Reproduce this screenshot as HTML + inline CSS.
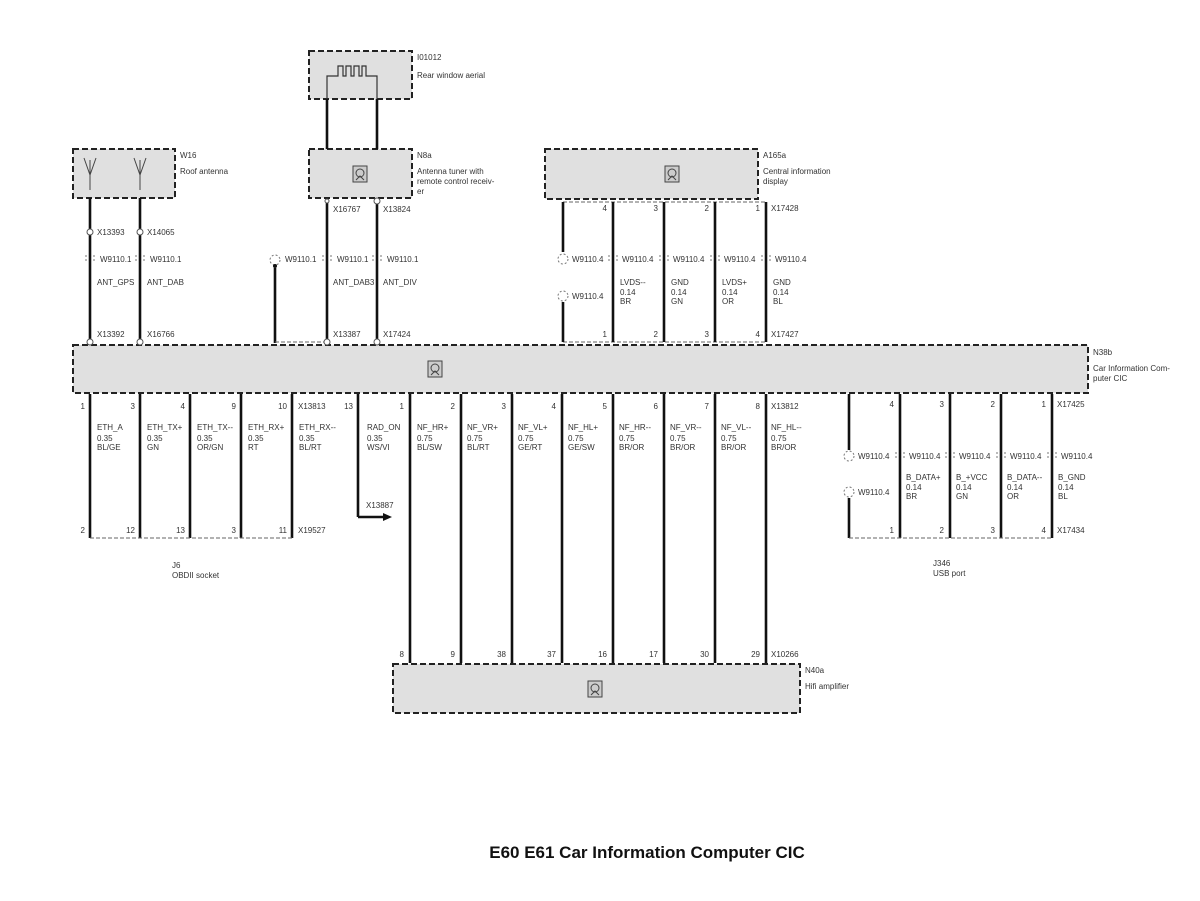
<!DOCTYPE html>
<html><head><meta charset="utf-8"><style>
html,body{margin:0;padding:0;background:#fff;}
svg text{font-family:"Liberation Sans",sans-serif;font-size:8px;fill:#333;}
.b{fill:#e0e0e0;stroke:#222;stroke-width:2;stroke-dasharray:6,3;}
.w{stroke:#111;stroke-width:2.6;fill:none;}
.d{stroke:#666;stroke-width:1;stroke-dasharray:4,2;fill:none;}
.c{fill:#fff;stroke:#555;stroke-width:1;}
.m{fill:none;stroke:#777;stroke-width:1;stroke-dasharray:2,2;}
.r{text-anchor:end;}
</style></head><body>
<svg width="1200" height="896" viewBox="0 0 1200 896" xmlns="http://www.w3.org/2000/svg">
<defs>
<g id="ic"><rect x="-7" y="-8" width="14" height="16" fill="#ccc" stroke="#444" stroke-width="1"/><circle cx="0" cy="-1" r="4" fill="none" stroke="#444" stroke-width="1"/><path d="M-4 6 L0 2 L4 6" fill="none" stroke="#444"/></g>
<g id="mk"><path d="M-4 -4 v8 M4 -4 v8" class="m"/></g>
</defs>

<rect class="b" x="309" y="51" width="103" height="48"/>
<path d="M327 99 V76 H338 V66 H343 V76 H346 V66 H351 V76 H354 V66 H359 V76 H362 V66 H366 V76 H377 V99" fill="none" stroke="#333" stroke-width="1.2"/>
<text x="417" y="60">I01012</text><text x="417" y="78">Rear window aerial</text>

<rect class="b" x="73" y="149" width="102" height="49"/>
<path d="M90 190 V160 M84 158 L90 175 L96 158 M140 190 V160 M134 158 L140 175 L146 158" stroke="#444" stroke-width="1" fill="none"/>
<text x="180" y="158">W16</text><text x="180" y="174">Roof antenna</text>

<rect class="b" x="309" y="149" width="103" height="49"/>
<use href="#ic" x="360" y="174"/>
<text x="417" y="158">N8a</text><text x="417" y="174">Antenna tuner with</text><text x="417" y="184">remote control receiv-</text><text x="417" y="194">er</text>

<rect class="b" x="545" y="149" width="213" height="50"/>
<use href="#ic" x="672" y="174"/>
<text x="763" y="158">A165a</text><text x="763" y="174">Central information</text><text x="763" y="184">display</text>

<rect class="b" x="73" y="345" width="1015" height="48"/>
<use href="#ic" x="435" y="369"/>
<text x="1093" y="355">N38b</text><text x="1093" y="371">Car Information Com-</text><text x="1093" y="381">puter CIC</text>

<rect class="b" x="393" y="664" width="407" height="49"/>
<use href="#ic" x="595" y="689"/>
<text x="805" y="673">N40a</text><text x="805" y="689">Hifi amplifier</text>

<path class="w" d="M90 198V343 M140 198V343 M327 99V149 M377 99V149 M327 198V343 M377 198V343 M275 268V343"/>
<path class="d" d="M275 342H327"/>
<circle class="m" cx="275" cy="260" r="5"/><circle cx="275" cy="266" r="2" fill="#111"/>
<g>
<text x="97" y="235">X13393</text><use href="#mk" x="90" y="259"/><text x="100" y="262">W9110.1</text><text x="97" y="285">ANT_GPS</text><text x="97" y="337">X13392</text>
<text x="147" y="235">X14065</text><use href="#mk" x="140" y="259"/><text x="150" y="262">W9110.1</text><text x="147" y="285">ANT_DAB</text><text x="147" y="337">X16766</text>
<text x="285" y="262">W9110.1</text>
<text x="333" y="212">X16767</text><use href="#mk" x="327" y="259"/><text x="337" y="262">W9110.1</text><text x="333" y="285">ANT_DAB3</text><text x="333" y="337">X13387</text>
<text x="383" y="212">X13824</text><use href="#mk" x="377" y="259"/><text x="387" y="262">W9110.1</text><text x="383" y="285">ANT_DIV</text><text x="383" y="337">X17424</text>
</g>
<g><circle class="c" cx="90" cy="232" r="3"/><circle class="c" cx="140" cy="232" r="3"/><circle class="c" cx="90" cy="342" r="3"/><circle class="c" cx="140" cy="342" r="3"/><circle class="c" cx="327" cy="342" r="3"/><circle class="c" cx="377" cy="342" r="3"/><circle class="c" cx="377" cy="201" r="3"/><circle class="c" cx="327" cy="201" r="2"/></g>

<path class="d" d="M563 202H766 M563 342H766"/>
<path class="w" d="M563 202V252 M563 302V342 M613 202V342 M664 202V342 M715 202V342 M766 202V342"/>
<circle class="m" cx="563" cy="259" r="5"/><circle class="m" cx="563" cy="296" r="5"/>
<text x="572" y="262">W9110.4</text><text x="572" y="299">W9110.4</text>
<text class="r" x="607" y="211">4</text><text class="r" x="658" y="211">3</text><text class="r" x="709" y="211">2</text><text class="r" x="760" y="211">1</text><text x="771" y="211">X17428</text>
<text class="r" x="607" y="337">1</text><text class="r" x="658" y="337">2</text><text class="r" x="709" y="337">3</text><text class="r" x="760" y="337">4</text><text x="771" y="337">X17427</text>
<use href="#mk" x="613" y="259"/><text x="622" y="262">W9110.4</text><text x="620" y="285">LVDS--</text><text x="620" y="295">0.14</text><text x="620" y="304">BR</text>
<use href="#mk" x="664" y="259"/><text x="673" y="262">W9110.4</text><text x="671" y="285">GND</text><text x="671" y="295">0.14</text><text x="671" y="304">GN</text>
<use href="#mk" x="715" y="259"/><text x="724" y="262">W9110.4</text><text x="722" y="285">LVDS+</text><text x="722" y="295">0.14</text><text x="722" y="304">OR</text>
<use href="#mk" x="766" y="259"/><text x="775" y="262">W9110.4</text><text x="773" y="285">GND</text><text x="773" y="295">0.14</text><text x="773" y="304">BL</text>

<path class="w" d="M90 394V538 M140 394V538 M190 394V538 M241 394V538 M292 394V538"/>
<path class="d" d="M90 538H292"/>
<text class="r" x="85" y="409">1</text><text class="r" x="135" y="409">3</text><text class="r" x="185" y="409">4</text><text class="r" x="236" y="409">9</text><text class="r" x="287" y="409">10</text><text x="298" y="409">X13813</text>
<text class="r" x="85" y="533">2</text><text class="r" x="135" y="533">12</text><text class="r" x="185" y="533">13</text><text class="r" x="236" y="533">3</text><text class="r" x="287" y="533">11</text><text x="298" y="533">X19527</text>
<text x="97" y="430">ETH_A</text><text x="97" y="441">0.35</text><text x="97" y="450">BL/GE</text>
<text x="147" y="430">ETH_TX+</text><text x="147" y="441">0.35</text><text x="147" y="450">GN</text>
<text x="197" y="430">ETH_TX--</text><text x="197" y="441">0.35</text><text x="197" y="450">OR/GN</text>
<text x="248" y="430">ETH_RX+</text><text x="248" y="441">0.35</text><text x="248" y="450">RT</text>
<text x="299" y="430">ETH_RX--</text><text x="299" y="441">0.35</text><text x="299" y="450">BL/RT</text>
<text x="172" y="568">J6</text><text x="172" y="578">OBDII socket</text>

<path class="w" d="M358 394V517 M358 517H384"/>
<path d="M383 513 L392 517 L383 521Z" fill="#111"/>
<text class="r" x="353" y="409">13</text><text x="367" y="430">RAD_ON</text><text x="367" y="441">0.35</text><text x="367" y="450">WS/VI</text><text x="366" y="508">X13887</text>

<path class="w" d="M410 394V663 M461 394V663 M512 394V663 M562 394V663 M613 394V663 M664 394V663 M715 394V663 M766 394V663"/>
<text class="r" x="404" y="409">1</text><text class="r" x="455" y="409">2</text><text class="r" x="506" y="409">3</text><text class="r" x="556" y="409">4</text><text class="r" x="607" y="409">5</text><text class="r" x="658" y="409">6</text><text class="r" x="709" y="409">7</text><text class="r" x="760" y="409">8</text><text x="771" y="409">X13812</text>
<text class="r" x="404" y="657">8</text><text class="r" x="455" y="657">9</text><text class="r" x="506" y="657">38</text><text class="r" x="556" y="657">37</text><text class="r" x="607" y="657">16</text><text class="r" x="658" y="657">17</text><text class="r" x="709" y="657">30</text><text class="r" x="760" y="657">29</text><text x="771" y="657">X10266</text>
<text x="417" y="430">NF_HR+</text><text x="417" y="441">0.75</text><text x="417" y="450">BL/SW</text>
<text x="467" y="430">NF_VR+</text><text x="467" y="441">0.75</text><text x="467" y="450">BL/RT</text>
<text x="518" y="430">NF_VL+</text><text x="518" y="441">0.75</text><text x="518" y="450">GE/RT</text>
<text x="568" y="430">NF_HL+</text><text x="568" y="441">0.75</text><text x="568" y="450">GE/SW</text>
<text x="619" y="430">NF_HR--</text><text x="619" y="441">0.75</text><text x="619" y="450">BR/OR</text>
<text x="670" y="430">NF_VR--</text><text x="670" y="441">0.75</text><text x="670" y="450">BR/OR</text>
<text x="721" y="430">NF_VL--</text><text x="721" y="441">0.75</text><text x="721" y="450">BR/OR</text>
<text x="771" y="430">NF_HL--</text><text x="771" y="441">0.75</text><text x="771" y="450">BR/OR</text>

<path class="w" d="M849 394V450 M849 498V538 M900 394V538 M950 394V538 M1001 394V538 M1052 394V538"/>
<path class="d" d="M849 538H1052"/>
<circle class="m" cx="849" cy="456" r="5"/><circle class="m" cx="849" cy="492" r="5"/>
<text x="858" y="459">W9110.4</text><text x="858" y="495">W9110.4</text>
<text class="r" x="894" y="407">4</text><text class="r" x="944" y="407">3</text><text class="r" x="995" y="407">2</text><text class="r" x="1046" y="407">1</text><text x="1057" y="407">X17425</text>
<text class="r" x="894" y="533">1</text><text class="r" x="944" y="533">2</text><text class="r" x="995" y="533">3</text><text class="r" x="1046" y="533">4</text><text x="1057" y="533">X17434</text>
<use href="#mk" x="900" y="456"/><text x="909" y="459">W9110.4</text><text x="906" y="480">B_DATA+</text><text x="906" y="490">0.14</text><text x="906" y="499">BR</text>
<use href="#mk" x="950" y="456"/><text x="959" y="459">W9110.4</text><text x="956" y="480">B_+VCC</text><text x="956" y="490">0.14</text><text x="956" y="499">GN</text>
<use href="#mk" x="1001" y="456"/><text x="1010" y="459">W9110.4</text><text x="1007" y="480">B_DATA--</text><text x="1007" y="490">0.14</text><text x="1007" y="499">OR</text>
<use href="#mk" x="1052" y="456"/><text x="1061" y="459">W9110.4</text><text x="1058" y="480">B_GND</text><text x="1058" y="490">0.14</text><text x="1058" y="499">BL</text>
<text x="933" y="566">J346</text><text x="933" y="576">USB port</text>

<text x="647" y="858" style="font-size:17px;font-weight:bold;fill:#111;text-anchor:middle">E60 E61 Car Information Computer CIC</text>
</svg>
</body></html>
